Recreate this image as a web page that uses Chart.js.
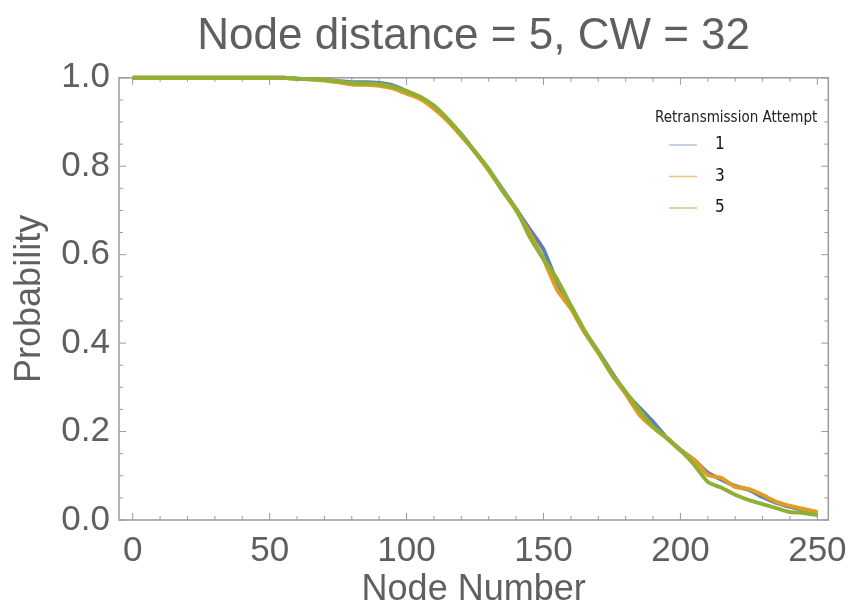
<!DOCTYPE html>
<html>
<head>
<meta charset="utf-8">
<script src="https://cdn.jsdelivr.net/npm/chart.js@4.4.1/dist/chart.umd.min.js"></script>
<style>
html, body { margin: 0; padding: 0; background: #fff; }
#wrap { width: 857px; height: 614px; }
</style>
</head>
<body>
<div id="wrap"><canvas id="probChart" width="857" height="614"></canvas></div>
<script>
// node numbers on the x axis
var nodeNumbers = [0, 5, 10, 15, 20, 25, 30, 35, 40, 45, 50, 55, 60, 65, 70, 75, 80, 85, 90, 95,
    100, 105, 110, 115, 120, 125, 130, 135, 140, 145, 150, 155, 160, 165, 170, 175, 180, 185, 190, 195,
    200, 205, 210, 215, 220, 225, 230, 235, 240, 245, 250];

// probability, one array per retransmission attempt
var attempt1 = [1, 1, 1, 1, 1, 1, 1, 1, 1, 1, 1, 1, 0.998, 0.997, 0.995, 0.993, 0.99, 0.99, 0.988, 0.983,
    0.97, 0.955, 0.935, 0.905, 0.872, 0.832, 0.792, 0.748, 0.703, 0.657, 0.612, 0.537, 0.483, 0.426, 0.381, 0.333, 0.288, 0.254, 0.222, 0.186,
    0.159, 0.136, 0.107, 0.091, 0.077, 0.068, 0.052, 0.039, 0.030, 0.023, 0.016];
var attempt3 = [1, 1, 1, 1, 1, 1, 1, 1, 1, 1, 1, 1, 0.998, 0.996, 0.994, 0.99, 0.985, 0.984, 0.982, 0.976,
    0.964, 0.952, 0.93, 0.902, 0.868, 0.832, 0.79, 0.745, 0.70, 0.648, 0.59, 0.52, 0.478, 0.424, 0.378, 0.328, 0.285, 0.238, 0.209, 0.185,
    0.157, 0.136, 0.102, 0.095, 0.075, 0.07, 0.057, 0.041, 0.032, 0.025, 0.018];
var attempt5 = [1, 1, 1, 1, 1, 1, 1, 1, 1, 1, 1, 1, 0.998, 0.997, 0.995, 0.992, 0.988, 0.987, 0.986, 0.98,
    0.97, 0.957, 0.937, 0.907, 0.872, 0.833, 0.794, 0.745, 0.703, 0.64, 0.59, 0.544, 0.485, 0.428, 0.38, 0.33, 0.29, 0.249, 0.211, 0.186,
    0.158, 0.125, 0.086, 0.073, 0.057, 0.045, 0.036, 0.027, 0.018, 0.016, 0.011];

var seriesLabels = ['1', '3', '5'];
var xTickLabels = [0, 50, 100, 150, 200, 250];
var yTickLabels = [0, 0.2, 0.4, 0.6, 0.8, 1.0];

var textGray = '#5f5f5f';
var frameGray = '#9a9a9a';
var fontFamily = '"Liberation Sans", Arial, sans-serif';

function toPoints(values) {
    return nodeNumbers.map(function (n, i) { return { x: n, y: values[i] }; });
}

// frame with inside ticks, Mathematica style
var framePlugin = {
    id: 'frame',
    beforeDatasetsDraw: function (chart) {
        var ctx = chart.ctx, a = chart.chartArea;
        var xs = chart.scales.x, ys = chart.scales.y;
        ctx.save();
        ctx.strokeStyle = frameGray;
        ctx.lineWidth = 1.5;
        ctx.strokeRect(a.left, a.top, a.right - a.left, a.bottom - a.top);
        ctx.lineWidth = 1;
        for (var v = 0; v <= 250; v += 10) {
            var px = xs.getPixelForValue(v);
            var len = (v % 50 === 0) ? 7 : 4;
            ctx.beginPath();
            ctx.moveTo(px, a.bottom); ctx.lineTo(px, a.bottom - len);
            ctx.moveTo(px, a.top); ctx.lineTo(px, a.top + len);
            ctx.stroke();
        }
        for (var k = 0; k <= 20; k++) {
            var py = ys.getPixelForValue(k * 0.05);
            var l2 = (k % 4 === 0) ? 7 : 4;
            ctx.beginPath();
            ctx.moveTo(a.left, py); ctx.lineTo(a.left + l2, py);
            ctx.moveTo(a.right, py); ctx.lineTo(a.right - l2, py);
            ctx.stroke();
        }
        ctx.restore();
    }
};

// legend drawn inside the plot, upper right
var insideLegend = {
    id: 'insideLegend',
    afterDraw: function (chart) {
        var ctx = chart.ctx;
        var x0 = 655, y0 = 118;
        ctx.save();
        ctx.fillStyle = '#222';
        ctx.font = '15px "Liberation Sans Narrow", "DejaVu Sans Condensed", sans-serif';
        ctx.textBaseline = 'middle';
        ctx.textAlign = 'left';
        ctx.fillText('Retransmission Attempt', x0, y0);
        chart.data.datasets.forEach(function (ds, i) {
            var y = y0 + 27 + i * 31.5;
            ctx.strokeStyle = ds.legendColor;
            ctx.lineWidth = 1.5;
            ctx.beginPath();
            ctx.moveTo(x0 + 14, y); ctx.lineTo(x0 + 42, y);
            ctx.stroke();
            ctx.fillStyle = '#111';
            ctx.font = '17px "Liberation Sans Narrow", "DejaVu Sans Condensed", sans-serif';
            ctx.fillText(ds.label, x0 + 60, y);
        });
        ctx.restore();
    }
};

var ctx = document.getElementById('probChart').getContext('2d');
var chart = new Chart(ctx, {
    type: 'line',
    data: {
        datasets: [{
            label: seriesLabels[0],
            data: toPoints(attempt1),
            borderColor: '#5E81B5',
            legendColor: 'rgba(94,129,181,0.45)',
            borderWidth: 4,
            pointRadius: 0,
            tension: 0.2,
            order: 3,
            clip: false
        }, {
            label: seriesLabels[1],
            data: toPoints(attempt3),
            borderColor: '#E19C24',
            legendColor: 'rgba(225,156,36,0.6)',
            borderWidth: 4,
            pointRadius: 0,
            tension: 0.2,
            order: 2,
            clip: false
        }, {
            label: seriesLabels[2],
            data: toPoints(attempt5),
            borderColor: '#8FB032',
            legendColor: 'rgba(143,176,50,0.6)',
            borderWidth: 4,
            pointRadius: 0,
            tension: 0.2,
            order: 1,
            clip: false
        }]
    },
    options: {
        responsive: false,
        animation: false,
        devicePixelRatio: 1,
        layout: { padding: { left: 0, right: 23, top: 0, bottom: 0 } },
        plugins: {
            legend: { display: false },
            tooltip: { enabled: false },
            title: {
                display: true,
                fullSize: false,
                text: 'Node distance = 5, CW = 32',
                color: textGray,
                font: { family: fontFamily, size: 44, weight: 'normal' },
                padding: { top: 10, bottom: 15 }
            }
        },
        scales: {
            x: {
                type: 'linear',
                min: -5,
                max: 254,
                grid: { display: false, drawTicks: false },
                border: { display: false },
                afterBuildTicks: function (scale) {
                    scale.ticks = xTickLabels.map(function (v) { return { value: v }; });
                },
                afterFit: function (scale) { scale.height = 94; },
                ticks: {
                    color: textGray,
                    padding: 10,
                    maxRotation: 0,
                    font: { family: fontFamily, size: 35 }
                },
                title: {
                    display: true,
                    text: 'Node Number',
                    color: textGray,
                    font: { family: fontFamily, size: 36 },
                    padding: { top: 0, bottom: 2 }
                }
            },
            y: {
                min: 0,
                max: 1,
                grid: { display: false, drawTicks: false },
                border: { display: false },
                afterBuildTicks: function (scale) {
                    scale.ticks = yTickLabels.map(function (v) { return { value: v }; });
                },
                afterFit: function (scale) { scale.width = 119; },
                ticks: {
                    color: textGray,
                    padding: 9,
                    font: { family: fontFamily, size: 35 },
                    callback: function (v) { return Number(v).toFixed(1); }
                },
                title: {
                    display: true,
                    text: 'Probability',
                    color: textGray,
                    font: { family: fontFamily, size: 36 },
                    padding: { top: 8, bottom: 0 }
                }
            }
        }
    },
    plugins: [framePlugin, insideLegend]
});
</script>
</body>
</html>
